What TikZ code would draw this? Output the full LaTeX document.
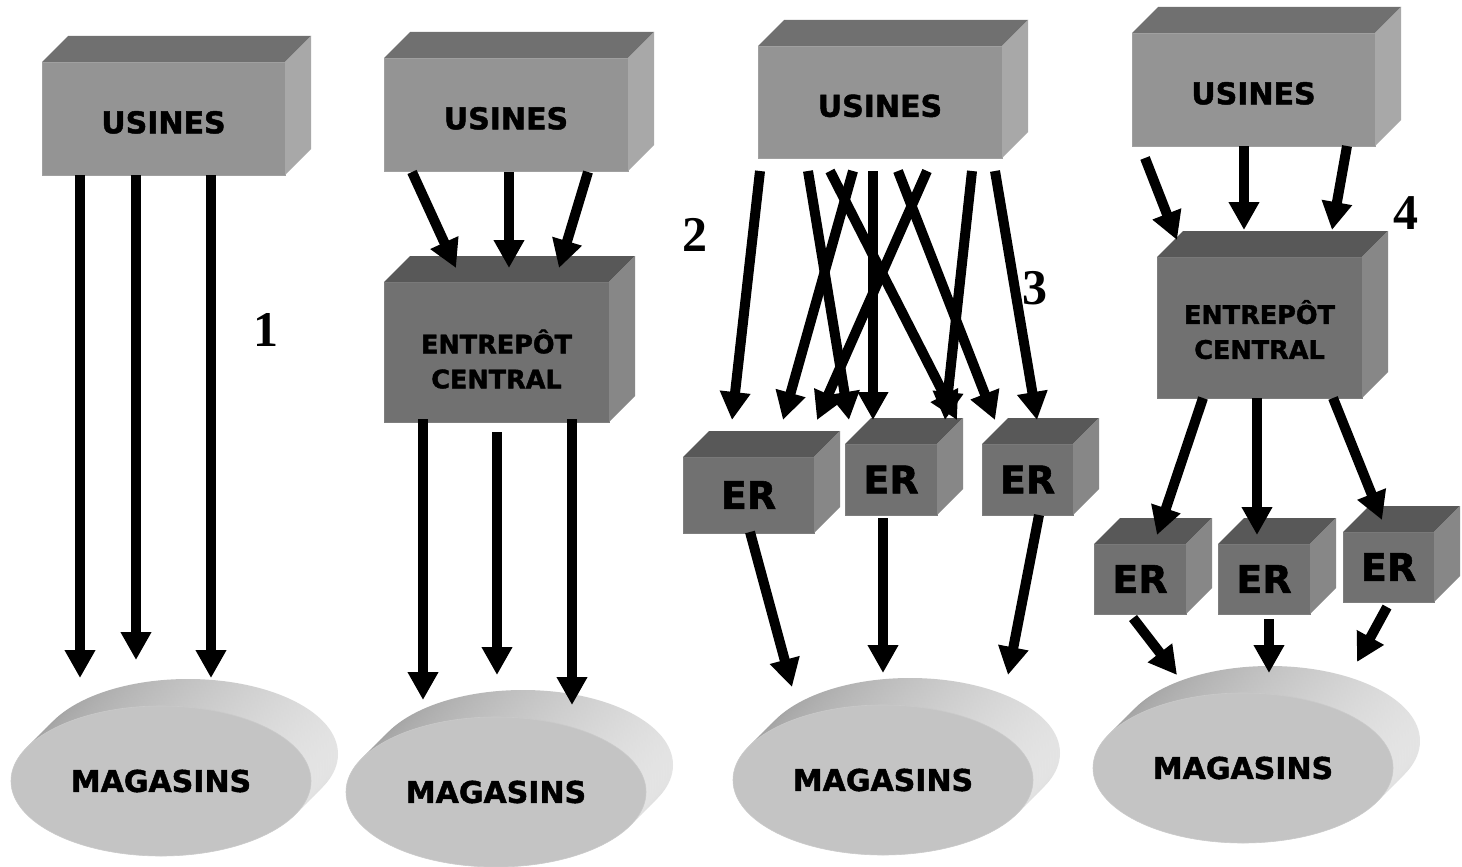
\documentclass[tikz,border=0pt]{standalone}
\usepackage{fontspec}
\setmainfont{DejaVu Sans}[BoldFont={DejaVu Sans Bold}, BoldFeatures={FakeBold=1.5}]
\newfontfamily\numfont{Liberation Serif}
\usetikzlibrary{arrows.meta,shapes.geometric}
\definecolor{cLF}{HTML}{949494}
\definecolor{cLT}{HTML}{707070}
\definecolor{cLS}{HTML}{A8A8A8}
\definecolor{cLE}{HTML}{A0A0A0}
\definecolor{cDF}{HTML}{717171}
\definecolor{cDT}{HTML}{585858}
\definecolor{cDS}{HTML}{878787}
\definecolor{cDE}{HTML}{7E7E7E}
\definecolor{cMF}{HTML}{C4C4C4}
\definecolor{cMA}{HTML}{A0A0A0}
\definecolor{cMB}{HTML}{E4E4E4}
\tikzset{
  ltface/.style={rectangle, fill=cLF, draw=cLE, line width=0.8pt, inner sep=0pt, outer sep=0pt},
  lttop/.style={fill=cLT},
  ltside/.style={fill=cLS},
  dkface/.style={rectangle, fill=cDF, draw=cDE, line width=0.8pt, inner sep=0pt, outer sep=0pt},
  dktop/.style={fill=cDT},
  dkside/.style={fill=cDS},
  usfont/.style={font=\bfseries\fontsize{30}{36}\selectfont},
  enfont/.style={font=\bfseries\fontsize{25.5}{35}\selectfont, align=center},
  erfont/.style={font=\bfseries\fontsize{38}{44}\selectfont},
  magface/.style={ellipse, fill=cMF, draw=cMF!90!white, line width=0.6pt, minimum width=300pt, minimum height=150pt, inner sep=0pt, outer sep=0pt, font=\bfseries\fontsize{30}{36}\selectfont},
  magside/.style={left color=cMA, right color=cMB},
  arr/.style={line width=10pt, -{Triangle[length=28pt,width=29pt]}},
  numlbl/.style={font=\numfont\bfseries\fontsize{50}{60}\selectfont, inner sep=0pt},
}
% #1 kind, #2 extra options, #3 name, #4 cx, #5 cy, #6 w, #7 h, #8 text
\newcommand\cuboid[8]{%
  \node[#1face,#2,minimum width=#6pt,minimum height=#7pt] (#3) at (#4,#5) {#8};
  \fill[#1top] (#3.north west) -- ++(26pt,26pt) -- ([shift={(26pt,26pt)}]#3.north east) -- (#3.north east) -- cycle;
  \fill[#1side] (#3.north east) -- ++(26pt,26pt) -- ([shift={(26pt,26pt)}]#3.south east) -- (#3.south east) -- cycle;
}
% #1 name, #2 cx, #3 cy
\newcommand\magasin[3]{%
  \foreach \k in {10,9,...,1}{
    \shade[magside] ([shift={(\k*2.7pt,\k*2.7pt)}]#2,#3) ellipse [x radius=150pt, y radius=75pt];
  }
  \node[magface] (#1) at (#2,#3) {MAGASINS};
}
\begin{document}
\begin{tikzpicture}[x=1pt,y=-1pt]
\fill[white] (0,0) rectangle (1462,867);
\useasboundingbox (0,0) rectangle (1462,867);

% ---------- shapes ----------
\cuboid{lt}{usfont}{u1}{163.5}{118.5}{243}{113}{\rule{0pt}{30pt}USINES}
\cuboid{lt}{usfont}{u2}{506}{114.5}{244}{113}{\rule{0pt}{30pt}USINES}
\cuboid{dk}{enfont}{e2}{496.5}{352}{225}{140}{\rule{0pt}{38pt}ENTREPÔT\\CENTRAL}
\cuboid{lt}{usfont}{u3}{880}{102}{244}{112}{\rule{0pt}{30pt}USINES}
\cuboid{dk}{erfont}{r1}{748.5}{495}{131}{76}{ER}
\cuboid{dk}{erfont}{r2}{891}{479.5}{92}{71}{ER}
\cuboid{dk}{erfont}{r3}{1027.5}{479.5}{91}{71}{ER}
\cuboid{lt}{usfont}{u4}{1253.5}{89.5}{243}{113}{\rule{0pt}{30pt}USINES}
\cuboid{dk}{enfont}{e4}{1259.5}{327.5}{205}{141}{\rule{0pt}{28pt}ENTREPÔT\\CENTRAL}
\cuboid{dk}{erfont}{ra}{1140}{579}{92}{70}{ER}
\cuboid{dk}{erfont}{rb}{1264}{579}{92}{70}{ER}
\cuboid{dk}{erfont}{rc}{1388.5}{567}{91}{70}{ER}

\magasin{m1}{161}{781}
\magasin{m2}{496}{792}
\magasin{m3}{883}{780}
\magasin{m4}{1243}{768}

% ---------- labels ----------
\node[numlbl] (n1) at (266,330) {1};
\node[numlbl] (n2) at (695,235) {2};
\node[numlbl] (n3) at (1035,288) {3};
\node[numlbl] (n4) at (1406,213) {4};

% ---------- panel 1 ----------
\draw[arr] ([shift={(38,0)}]u1.south west) -- ([shift={(-81,-103)}]m1.center);
\draw[arr] ([shift={(94,0)}]u1.south west) -- ([shift={(-25,-121)}]m1.center);
\draw[arr] ([shift={(169,0)}]u1.south west) -- ([shift={(50,-103)}]m1.center);

% ---------- panel 2 ----------
\draw[arr] ([shift={(28,1)}]u2.south west) -- ([shift={(-40.5,-84)}]e2.center);
\draw[arr] ([shift={(125,1)}]u2.south west) -- ([shift={(12.5,-84)}]e2.center);
\draw[arr] ([shift={(204,1)}]u2.south west) -- ([shift={(62.5,-84)}]e2.center);
\draw[arr] ([shift={(39,-3)}]e2.south west) -- ([shift={(-73,-92)}]m2.center);
\draw[arr] ([shift={(113,10)}]e2.south west) -- ([shift={(1,-117)}]m2.center);
\draw[arr] ([shift={(188,-3)}]e2.south west) -- ([shift={(76,-87)}]m2.center);

% ---------- panel 3 ----------
\draw[arr] ([shift={(2,13)}]u3.south west) -- ([shift={(-16.5,-75)}]r1.center);
\draw[arr] ([shift={(50,13)}]u3.south west) -- ([shift={(-42,-59.5)}]r2.center);
\draw[arr] ([shift={(72,13)}]u3.south west) -- ([shift={(66,-59.5)}]r2.center);
\draw[arr] ([shift={(95,13)}]u3.south west) -- ([shift={(34.5,-75)}]r1.center);
\draw[arr] ([shift={(115,13)}]u3.south west) -- ([shift={(-18,-59.5)}]r2.center);
\draw[arr] ([shift={(140,13)}]u3.south west) -- ([shift={(-32.5,-59.5)}]r3.center);
\draw[arr] ([shift={(169,13)}]u3.south west) -- ([shift={(68.5,-75)}]r1.center);
\draw[arr] ([shift={(214,13)}]u3.south west) -- ([shift={(54,-59.5)}]r2.center);
\draw[arr] ([shift={(237,13)}]u3.south west) -- ([shift={(9.5,-59.5)}]r3.center);
\draw[arr] ([shift={(67,-1)}]r1.south west) -- ([shift={(-91,-93)}]m3.center);
\draw[arr] ([shift={(38,3)}]r2.south west) -- ([shift={(0,-107)}]m3.center);
\draw[arr] ([shift={(57,0)}]r3.south west) -- ([shift={(125,-105)}]m3.center);

% ---------- panel 4 ----------
\draw[arr] ([shift={(13,12)}]u4.south west) -- ([shift={(-82.5,-87.5)}]e4.center);
\draw[arr] ([shift={(112,0)}]u4.south west) -- ([shift={(-15.5,-97.5)}]e4.center);
\draw[arr] ([shift={(215,0)}]u4.south west) -- ([shift={(72.5,-97.5)}]e4.center);
\draw[arr] ([shift={(46,0)}]e4.south west) -- ([shift={(17,-44)}]ra.center);
\draw[arr] ([shift={(100,0)}]e4.south west) -- ([shift={(-7,-44)}]rb.center);
\draw[arr] ([shift={(176,0)}]e4.south west) -- ([shift={(-6.5,-47)}]rc.center);
\draw[arr] ([shift={(39,4)}]ra.south west) -- ([shift={(-66,-93)}]m4.center);
\draw[arr] ([shift={(51,5)}]rb.south west) -- ([shift={(26,-95)}]m4.center);
\draw[arr] ([shift={(44,5)}]rc.south west) -- ([shift={(114,-106)}]m4.center);
\end{tikzpicture}
\end{document}
